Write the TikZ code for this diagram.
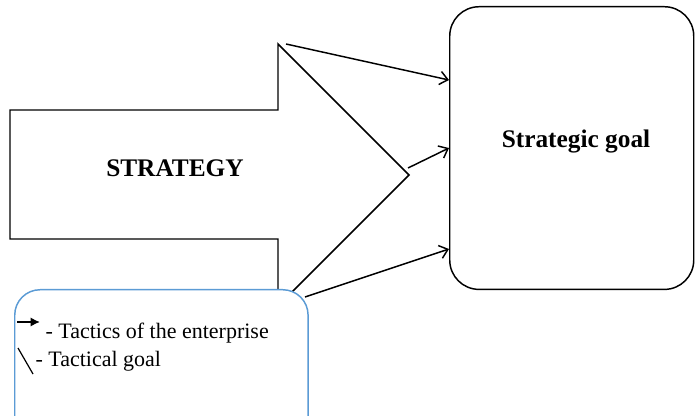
\documentclass[tikz,border=0pt]{standalone}
\usepackage{fontspec}
\setmainfont{Liberation Serif}
\usetikzlibrary{arrows.meta}
\definecolor{legendblue}{RGB}{91,155,213}
\tikzset{every picture/.style={line width=0.75pt}}
\tikzset{tactic/.style={line width=1.1pt,-{Straight Barb[length=6pt,width=10pt]}}}

\begin{document}
\begin{tikzpicture}[x=0.75pt,y=0.75pt,yscale=-1,xscale=1]
\useasboundingbox (0,0) rectangle (695,416);

% Shape: Right Arrow
\draw [line width=1.1pt]  (10,110) -- (278,110) -- (278,44) -- (409,175) -- (278,306) -- (278,239) -- (10,239) -- cycle ;
\draw (175,168) node [inner sep=0.75pt][font=\bfseries\fontsize{19}{23}\selectfont] (strategy) {STRATEGY};

% Shape: Rounded Rect
\draw (449,6) node [anchor=north west][draw, line width=1.1pt, rounded corners=22pt, minimum width=183pt, minimum height=212pt] (goal) {};
% Text Node
\draw (576,142) node [inner sep=0.75pt][font=\bfseries\fontsize{19}{23}\selectfont] (goaltext) {Strategic goal};

% Shape: Rounded Rect
\draw (14,289) node [anchor=north west][draw=legendblue, fill=white, line width=1.1pt, rounded corners=19pt, minimum width=220pt, minimum height=115pt] (legend) {};
% Text Node
\draw (45,338) node [anchor=base west][inner sep=0pt][font=\fontsize{16.5}{20}\selectfont] (tactics) {- Tactics of the enterprise};
\draw (35,366) node [anchor=base west][inner sep=0pt][font=\fontsize{16.5}{20}\selectfont] (tacgoal) {- Tactical goal};
% Legend marks
\coordinate (la) at (17,322);
\coordinate (lb) at (40,322);
\draw [line width=1.8pt, -{Latex[length=7pt,width=7pt]}] (la) -- (lb);
\coordinate (lc) at (18,348);
\coordinate (ld) at (33,374);
\draw [line width=0.9pt] (lc) -- (ld);

% Connection
\coordinate (t1) at (286,44);
\coordinate (t2) at (408,168);
\coordinate (t3) at (305,297);
\coordinate (g1) at (449,80);
\coordinate (g2) at (449,148);
\coordinate (g3) at (449,249);
\draw [tactic] (t1) -- (g1);
\draw [tactic] (t2) -- (g2);
\draw [tactic] (t3) -- (g3);

\end{tikzpicture}
\end{document}
